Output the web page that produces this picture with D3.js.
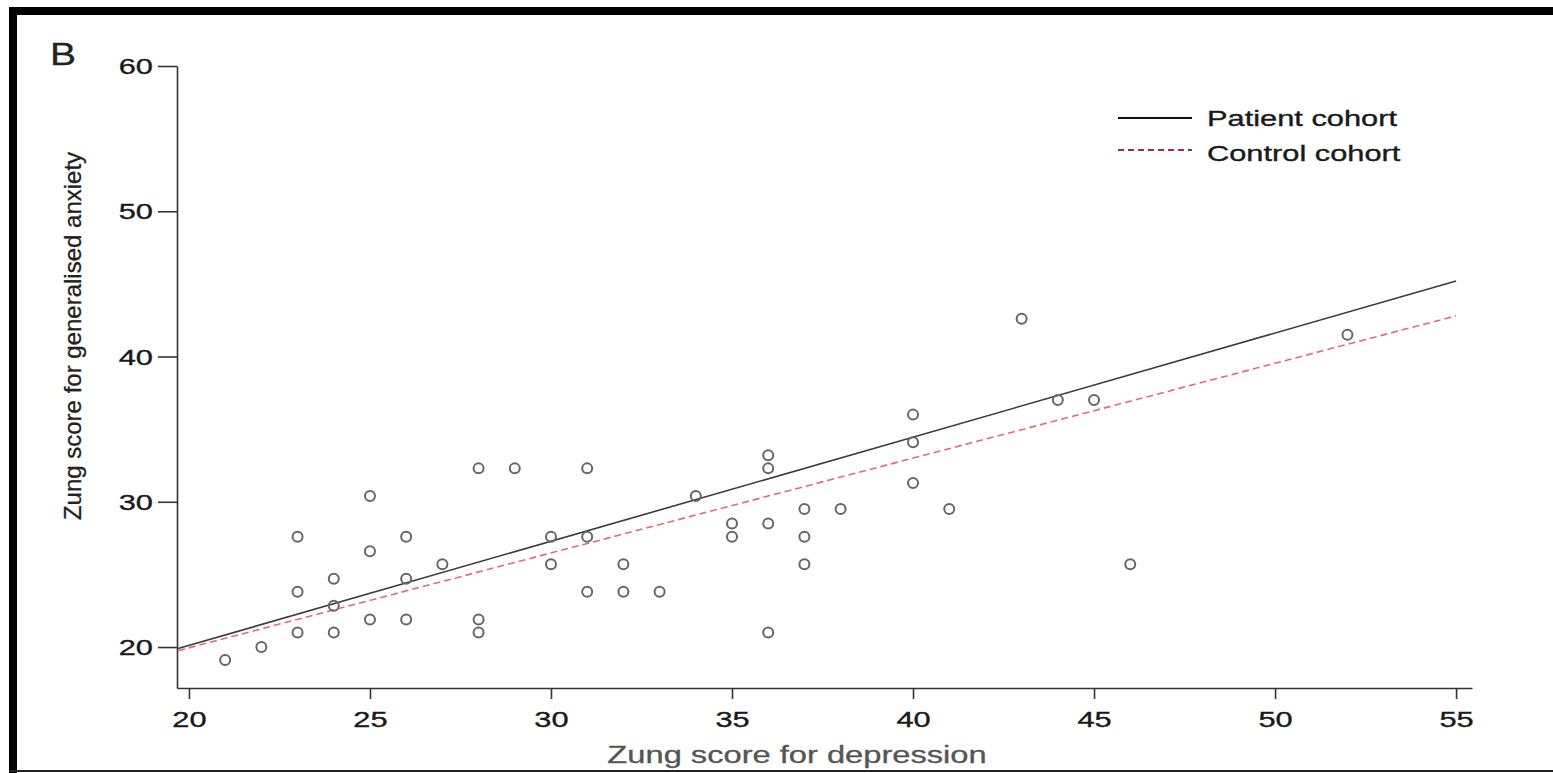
<!DOCTYPE html>
<html>
<head>
<meta charset="utf-8">
<script src="https://cdn.jsdelivr.net/npm/d3@7"></script>
<style>
  body { margin: 0; background: #fff; }
  text { font-family: "Liberation Sans", Arial, sans-serif; }
</style>
</head>
<body>
<div id="chart"></div>
<script>
// Data
var depression = [21, 22, 23, 23, 23, 24, 24, 24, 25, 25, 25, 26, 26, 26, 27, 28, 28, 28, 29,
  30, 30, 31, 31, 31, 32, 32, 33, 34, 35, 35, 36, 36, 36, 36, 37, 37, 37, 38,
  40, 40, 40, 41, 43, 44, 45, 46, 52];
var anxiety = [19.1, 20.0, 27.6, 23.8, 21.0, 24.7, 22.85, 21.0, 30.4, 26.6, 21.9, 27.6, 24.7, 21.9, 25.7, 32.3, 21.9, 21.0, 32.3,
  27.6, 25.7, 32.3, 27.6, 23.8, 25.7, 23.8, 23.8, 30.4, 28.5, 27.6, 33.2, 32.3, 28.5, 21.0, 29.5, 27.6, 25.7, 29.5,
  36.0, 34.1, 31.3, 29.5, 42.6, 37.0, 37.0, 25.7, 41.5];

// Regression line end points
var fitX = [19.7, 55];
var patientFitY = [19.9, 45.2];
var controlFitY = [19.75, 42.8];

var xTicks = [20, 25, 30, 35, 40, 45, 50, 55];
var yTicks = [20, 30, 40, 50, 60];

var seriesNames = ["Patient cohort", "Control cohort"];

var W = 1553, H = 773;
var margin = { top: 66, right: 81, bottom: 85, left: 177 },
    width = W - margin.left - margin.right,
    height = H - margin.top - margin.bottom;

var stretch = 1.4; // horizontal text stretch of the original

var root = d3.select("#chart")
  .append("svg")
    .attr("width", W)
    .attr("height", H);

// frame
root.append("rect").attr("x", 9).attr("y", 7).attr("width", 8).attr("height", H - 7).attr("fill", "#000");
root.append("rect").attr("x", 9).attr("y", 7).attr("width", W - 9).attr("height", 8).attr("fill", "#000");
root.append("rect").attr("x", 9).attr("y", 770).attr("width", W - 9).attr("height", 2).attr("fill", "#222");

// panel letter
root.append("text")
  .attr("transform", "translate(50,65) scale(1.22,1)")
  .style("font-size", "32px")
  .style("fill", "#222")
  .style("stroke", "#222")
  .style("stroke-width", 0.3)
  .text("B");

var svg = root.append("g")
  .attr("transform", "translate(" + margin.left + "," + margin.top + ")");

var x = d3.scaleLinear()
  .domain([19.67, 55.44])
  .range([0, width]);

var y = d3.scaleLinear()
  .domain([17.18, 60])
  .range([height, 0]);

// X axis
var xAxis = svg.append("g")
  .attr("transform", "translate(0," + height + ")")
  .call(d3.axisBottom(x).tickValues(xTicks).tickSize(11).tickSizeOuter(0));
xAxis.select(".domain").attr("stroke", "#333").attr("stroke-width", 1.6);
xAxis.selectAll(".tick line").attr("stroke", "#333").attr("stroke-width", 1.6);
xAxis.selectAll(".tick text")
  .attr("y", 0)
  .attr("dy", 0)
  .attr("transform", "translate(0,39) scale(" + stretch + ",1)")
  .style("font-size", "22px")
  .style("fill", "#1a1a1a")
  .style("stroke", "#1a1a1a")
  .style("stroke-width", 0.35);

// Y axis
var yAxis = svg.append("g")
  .call(d3.axisLeft(y).tickValues(yTicks).tickSize(19).tickSizeOuter(0));
yAxis.select(".domain").attr("stroke", "#333").attr("stroke-width", 1.6);
yAxis.selectAll(".tick line").attr("stroke", "#333").attr("stroke-width", 1.6);
yAxis.selectAll(".tick text")
  .attr("x", 0)
  .attr("dy", "0.35em")
  .attr("transform", "translate(-24,0) scale(" + stretch + ",1)")
  .style("font-size", "22px")
  .style("fill", "#1a1a1a")
  .style("stroke", "#1a1a1a")
  .style("stroke-width", 0.35);

// axis titles
root.append("text")
  .attr("transform", "translate(797,763) scale(1.42,1)")
  .attr("text-anchor", "middle")
  .style("font-size", "23px")
  .style("fill", "#555")
  .style("stroke", "#555")
  .style("stroke-width", 0.3)
  .text("Zung score for depression");

root.append("text")
  .attr("transform", "translate(81,336) rotate(-90)")
  .attr("text-anchor", "middle")
  .style("font-size", "24px")
  .style("fill", "#222")
  .style("stroke", "#222")
  .style("stroke-width", 0.3)
  .text("Zung score for generalised anxiety");

// regression lines
var line = d3.line().x(d => x(d[0])).y(d => y(d[1]));

svg.append("path")
  .datum(d3.zip(fitX, controlFitY))
  .attr("d", line)
  .attr("fill", "none")
  .attr("stroke", "#e46a78")
  .attr("stroke-width", 1.6)
  .attr("stroke-dasharray", "7,4");

svg.append("path")
  .datum(d3.zip(fitX, patientFitY))
  .attr("d", line)
  .attr("fill", "none")
  .attr("stroke", "#3a3a3a")
  .attr("stroke-width", 1.6);

// points
svg.selectAll(".pt")
  .data(d3.zip(depression, anxiety))
  .enter()
  .append("circle")
    .attr("class", "pt")
    .attr("cx", d => x(d[0]))
    .attr("cy", d => y(d[1]))
    .attr("r", 5)
    .attr("fill", "none")
    .attr("stroke", "#666")
    .attr("stroke-width", 2);

// legend
var legend = root.append("g")
  .attr("transform", "translate(1118,118)");

legend.append("line")
  .attr("x1", 0).attr("x2", 74)
  .attr("y1", 0).attr("y2", 0)
  .attr("stroke", "#111")
  .attr("stroke-width", 2);

legend.append("line")
  .attr("x1", 0).attr("x2", 74)
  .attr("y1", 32).attr("y2", 32)
  .attr("stroke", "#a8283c")
  .attr("stroke-width", 2)
  .attr("stroke-dasharray", "6,4");

legend.selectAll(".lg")
  .data(seriesNames)
  .enter()
  .append("text")
    .attr("class", "lg")
    .attr("transform", (d, i) => "translate(89," + (8 + i * 35) + ") scale(" + stretch + ",1)")
    .style("font-size", "22px")
    .style("fill", "#1a1a1a")
    .style("stroke", "#1a1a1a")
    .style("stroke-width", 0.35)
    .text(d => d);
</script>
</body>
</html>
